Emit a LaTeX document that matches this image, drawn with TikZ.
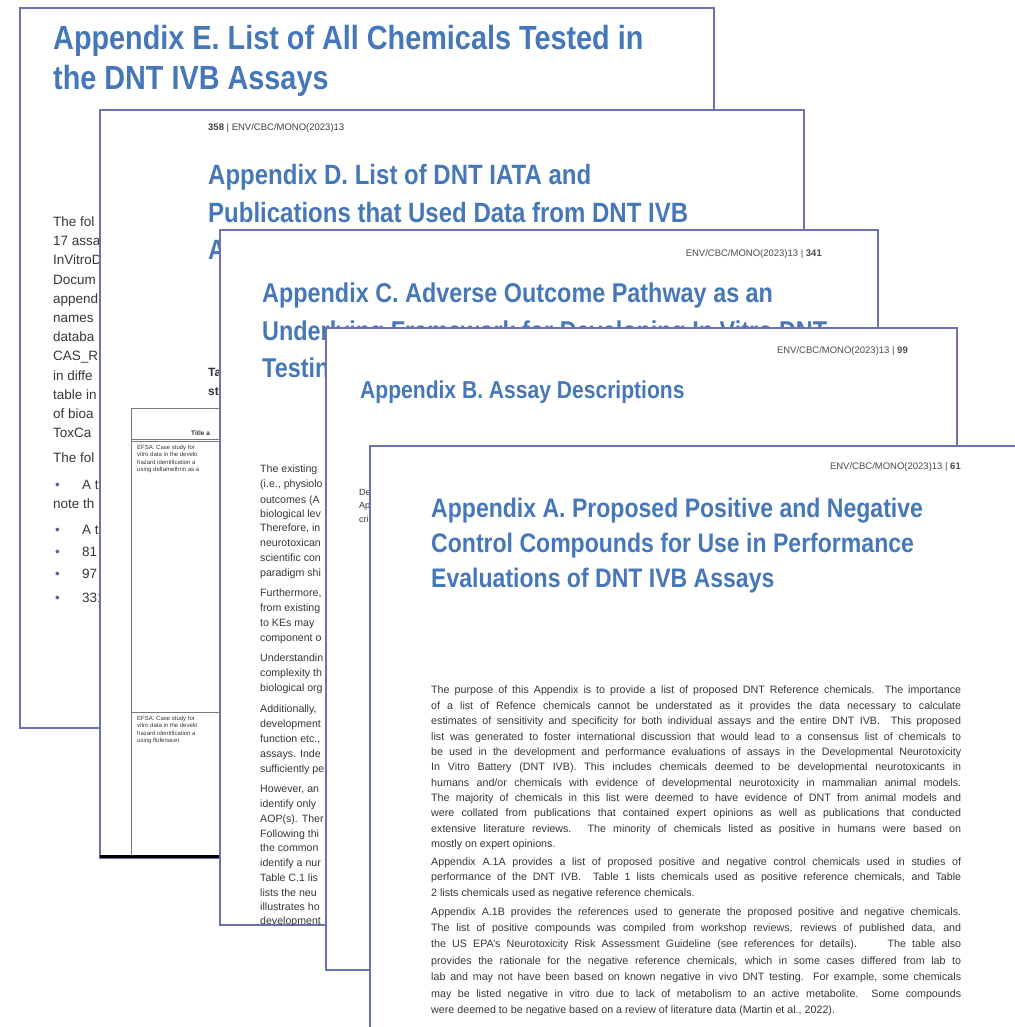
\documentclass[tikz,border=0pt]{standalone}
\usepackage{fontspec}
\setmainfont{Liberation Sans}
\newfontfamily\ttlfont[FakeStretch=0.86]{Liberation Sans}
\definecolor{pageedge}{RGB}{106,114,178}
\definecolor{ttlblue}{RGB}{70,120,185}
\definecolor{bodygray}{RGB}{55,55,55}
\definecolor{bulblue}{RGB}{80,100,170}
\definecolor{tblgray}{RGB}{120,120,120}
\begin{document}
\begin{tikzpicture}[x=1pt,y=-1pt,
  page/.style={draw=pageedge, line width=1.3pt, fill=white},
  ttl/.style={anchor=base west, inner sep=0pt, text=ttlblue, font=\ttlfont\bfseries\fontsize{#1}{#1}\selectfont},
  txt/.style={anchor=base west, inner sep=0pt, text=bodygray, font=\fontsize{#1}{#1}\selectfont},
  hdr/.style={anchor=base east, inner sep=0pt, text=black!70, font=\fontsize{#1}{#1}\selectfont},
  jl/.style={anchor=base west, inner sep=0pt, text=bodygray, font=\fontsize{10.7}{10.7}\selectfont},
  tbl/.style={draw=tblgray, line width=0.8pt},
  bul/.style={anchor=base west, inner sep=0pt, text=bulblue, font=\fontsize{13.5}{13.5}\selectfont}
]
\useasboundingbox (0,0) rectangle (1014,1027);
\fill[white] (0,0) rectangle (1014,1027);

% ================= Page E =================
\begin{scope}
\path[page] (20,8) rectangle (714,728);
\clip (20,8) rectangle (714,728);
\node[ttl=33.5] (Et1) at (53,50) {Appendix E. List of All Chemicals Tested in};
\node[ttl=33.5] (Et2) at (53,90) {the DNT IVB Assays};
\node[txt=13.5] (Eb1) at (53,226.5) {The fol};
\node[txt=13.5] (Eb2) at (53,245.5) {17 assa};
\node[txt=13.5] (Eb3) at (53,264.5) {InVitroD};
\node[txt=13.5] (Eb4) at (53,284) {Docum};
\node[txt=13.5] (Eb5) at (53,303) {append};
\node[txt=13.5] (Eb6) at (53,322) {names};
\node[txt=13.5] (Eb7) at (53,341) {databa};
\node[txt=13.5] (Eb8) at (53,360) {CAS\_R};
\node[txt=13.5] (Eb9) at (53,380) {in diffe};
\node[txt=13.5] (Eb10) at (53,399) {table in};
\node[txt=13.5] (Eb11) at (53,418) {of bioa};
\node[txt=13.5] (Eb12) at (53,437) {ToxCa};
\node[txt=13.5] (Eb13) at (53,462) {The fol};
\node[bul] (Eu1) at (55,489) {\textbullet};
\node[txt=13.5] (Ei1) at (82,489) {A t};
\node[txt=13.5] (Ei1b) at (53,508) {note th};
\node[bul] (Eu2) at (55,534) {\textbullet};
\node[txt=13.5] (Ei2) at (82,534) {A t};
\node[bul] (Eu3) at (55,556) {\textbullet};
\node[txt=13.5] (Ei3) at (82,556) {81};
\node[bul] (Eu4) at (55,578) {\textbullet};
\node[txt=13.5] (Ei4) at (82,578) {97};
\node[bul] (Eu5) at (55,602) {\textbullet};
\node[txt=13.5] (Ei5) at (82,602) {331};
\end{scope}

% ================= Page D =================
\begin{scope}
\path[page] (100,110) rectangle (804,858);
\clip (100,110) rectangle (804,858);
\node[anchor=base west, inner sep=0pt, text=black!75, font=\fontsize{9.5}{9.5}\selectfont] (Dh) at (208,131) {\textbf{358} | ENV/CBC/MONO(2023)13};
\node[ttl=27.9] (Dt1) at (208,185) {Appendix D. List of DNT IATA and};
\node[ttl=27.9] (Dt2) at (208,222) {Publications that Used Data from DNT IVB};
\node[ttl=27.9] (Dt3) at (208,259) {A};
\node[txt=12, font=\bfseries\fontsize{12}{12}\selectfont, text=black!80] (Dc1) at (208,376) {Ta};
\node[txt=12, font=\bfseries\fontsize{12}{12}\selectfont, text=black!80] (Dc2) at (208,395) {st};
% table
\draw[tbl] (131,408) -- (240,408);
\draw[tbl] (131,408) -- (131,857);
\draw[tbl] (131,439) -- (240,439);
\draw[tbl] (131,441.5) -- (240,441.5);
\draw[tbl] (131,712) -- (240,712);
\node[txt=6.5, font=\bfseries\fontsize{6.5}{6.5}\selectfont, text=black!80] (Dth) at (191,435) {Title a};
\node[txt=6] (Dr1) at (137,449) {EFSA: Case study for};
\node[txt=6] (Dr2) at (137,456.5) {vitro data in the develo};
\node[txt=6] (Dr3) at (137,464) {hazard identification a};
\node[txt=6] (Dr4) at (137,471.5) {using deltamethrin as a};
\node[txt=6] (Dr5) at (137,720) {EFSA: Case study for};
\node[txt=6] (Dr6) at (137,727.5) {vitro data in the develo};
\node[txt=6] (Dr7) at (137,735) {hazard identification a};
\node[txt=6] (Dr8) at (137,742.5) {using flufenacet};
\draw[line width=3pt, black] (100,856) -- (240,856);
\end{scope}

% ================= Page C =================
\begin{scope}
\path[page] (220,230) rectangle (878,925);
\clip (220,230) rectangle (878,925);
\node[hdr=9.5] (Ch) at (822,256) {ENV/CBC/MONO(2023)13 | \textbf{341}};
\node[ttl=27.2] (Ct1) at (262,302) {Appendix C. Adverse Outcome Pathway as an};
\node[ttl=27.2] (Ct2) at (262,340) {Underlying Framework for Developing In Vitro DNT};
\node[ttl=27.2] (Ct3) at (262,377) {Testin};
\node[txt=10.6] (Cb1) at (260,472) {The existing};
\node[txt=10.6] (Cb2) at (260,487) {(i.e., physiolo};
\node[txt=10.6] (Cb3) at (260,503) {outcomes (A};
\node[txt=10.6] (Cb4) at (260,517) {biological lev};
\node[txt=10.6] (Cb5) at (260,531) {Therefore, in};
\node[txt=10.6] (Cb6) at (260,546) {neurotoxican};
\node[txt=10.6] (Cb7) at (260,561) {scientific con};
\node[txt=10.6] (Cb8) at (260,576) {paradigm shi};
\node[txt=10.6] (Cb9) at (260,596) {Furthermore,};
\node[txt=10.6] (Cb10) at (260,611) {from existing};
\node[txt=10.6] (Cb11) at (260,626) {to KEs may};
\node[txt=10.6] (Cb12) at (260,641) {component o};
\node[txt=10.6] (Cb13) at (260,661) {Understandin};
\node[txt=10.6] (Cb14) at (260,676) {complexity th};
\node[txt=10.6] (Cb15) at (260,691) {biological org};
\node[txt=10.6] (Cb16) at (260,712) {Additionally,};
\node[txt=10.6] (Cb17) at (260,727) {development};
\node[txt=10.6] (Cb18) at (260,742) {function etc.,};
\node[txt=10.6] (Cb19) at (260,757) {assays. Inde};
\node[txt=10.6] (Cb20) at (260,772) {sufficiently pe};
\node[txt=10.6] (Cb21) at (260,792) {However, an};
\node[txt=10.6] (Cb22) at (260,807) {identify only};
\node[txt=10.6] (Cb23) at (260,822) {AOP(s). Ther};
\node[txt=10.6] (Cb24) at (260,837) {Following thi};
\node[txt=10.6] (Cb25) at (260,851) {the common};
\node[txt=10.6] (Cb26) at (260,866) {identify a nur};
\node[txt=10.6] (Cb27) at (260,881) {Table C.1 lis};
\node[txt=10.6] (Cb28) at (260,896) {lists the neu};
\node[txt=10.6] (Cb29) at (260,910) {illustrates ho};
\node[txt=10.6] (Cb30) at (260,924) {development};
\end{scope}

% ================= Page B =================
\begin{scope}
\path[page] (326,328) rectangle (957,970);
\clip (326,328) rectangle (957,970);
\node[hdr=9.5] (Bh) at (908,353) {ENV/CBC/MONO(2023)13 | \textbf{99}};
\node[ttl=24.5] (Bt1) at (360,398) {Appendix B. Assay Descriptions};
\node[txt=9] (Bb1) at (359,495) {De};
\node[txt=9] (Bb2) at (359,508) {Ap};
\node[txt=9] (Bb3) at (359,522) {cri};
\end{scope}

% ================= Page A =================
\begin{scope}
\path[page] (370,446) rectangle (1030,1040);
\clip (370,446) rectangle (1030,1040);
\node[hdr=9.5] (Ah) at (961,469) {ENV/CBC/MONO(2023)13 | \textbf{61}};
\node[ttl=26.8] (At1) at (431,517) {Appendix A. Proposed Positive and Negative};
\node[ttl=26.8] (At2) at (431,552) {Control Compounds for Use in Performance};
\node[ttl=26.8] (At3) at (431,587) {Evaluations of DNT IVB Assays};
% paragraph 1
\node[jl] (Ap1) at (431,693.5) {\makebox[530pt][s]{The purpose of this Appendix is to provide a list of proposed DNT Reference chemicals. The importance}};
\node[jl] (Ap2) at (431,709) {\makebox[530pt][s]{of a list of Refence chemicals cannot be understated as it provides the data necessary to calculate}};
\node[jl] (Ap3) at (431,724.5) {\makebox[530pt][s]{estimates of sensitivity and specificity for both individual assays and the entire DNT IVB.\ \ This proposed}};
\node[jl] (Ap4) at (431,740) {\makebox[530pt][s]{list was generated to foster international discussion that would lead to a consensus list of chemicals to}};
\node[jl] (Ap5) at (431,755) {\makebox[530pt][s]{be used in the development and performance evaluations of assays in the Developmental Neurotoxicity}};
\node[jl] (Ap6) at (431,770.5) {\makebox[530pt][s]{In Vitro Battery (DNT IVB). This includes chemicals deemed to be developmental neurotoxicants in}};
\node[jl] (Ap7) at (431,786) {\makebox[530pt][s]{humans and/or chemicals with evidence of developmental neurotoxicity in mammalian animal models.}};
\node[jl] (Ap8) at (431,801) {\makebox[530pt][s]{The majority of chemicals in this list were deemed to have evidence of DNT from animal models and}};
\node[jl] (Ap9) at (431,816.5) {\makebox[530pt][s]{were collated from publications that contained expert opinions as well as publications that conducted}};
\node[jl] (Ap10) at (431,832) {\makebox[530pt][s]{extensive literature reviews. The minority of chemicals listed as positive in humans were based on}};
\node[jl] (Ap11) at (431,847) {mostly on expert opinions.};
% paragraph 2
\node[jl] (Aq1) at (431,865) {\makebox[530pt][s]{Appendix A.1A provides a list of proposed positive and negative control chemicals used in studies of}};
\node[jl] (Aq2) at (431,880.5) {\makebox[530pt][s]{performance of the DNT IVB.\ \ Table 1 lists chemicals used as positive reference chemicals, and Table}};
\node[jl] (Aq3) at (431,896) {2 lists chemicals used as negative reference chemicals.};
% paragraph 3
\node[jl] (Ar1) at (431,915) {\makebox[530pt][s]{Appendix A.1B provides the references used to generate the proposed positive and negative chemicals.}};
\node[jl] (Ar2) at (431,931) {\makebox[530pt][s]{The list of positive compounds was compiled from workshop reviews, reviews of published data, and}};
\node[jl] (Ar3) at (431,947.5) {\makebox[530pt][s]{the US EPA’s Neurotoxicity Risk Assessment Guideline (see references for details).\ \ \ \ \ The table also}};
\node[jl] (Ar4) at (431,964) {\makebox[530pt][s]{provides the rationale for the negative reference chemicals, which in some cases differed from lab to}};
\node[jl] (Ar5) at (431,980.5) {\makebox[530pt][s]{lab and may not have been based on known negative in vivo DNT testing. For example, some chemicals}};
\node[jl] (Ar6) at (431,997) {\makebox[530pt][s]{may be listed negative in vitro due to lack of metabolism to an active metabolite.\ \ Some compounds}};
\node[jl] (Ar7) at (431,1013.5) {were deemed to be negative based on a review of literature data (Martin et al., 2022).};
\end{scope}
\end{tikzpicture}
\end{document}
